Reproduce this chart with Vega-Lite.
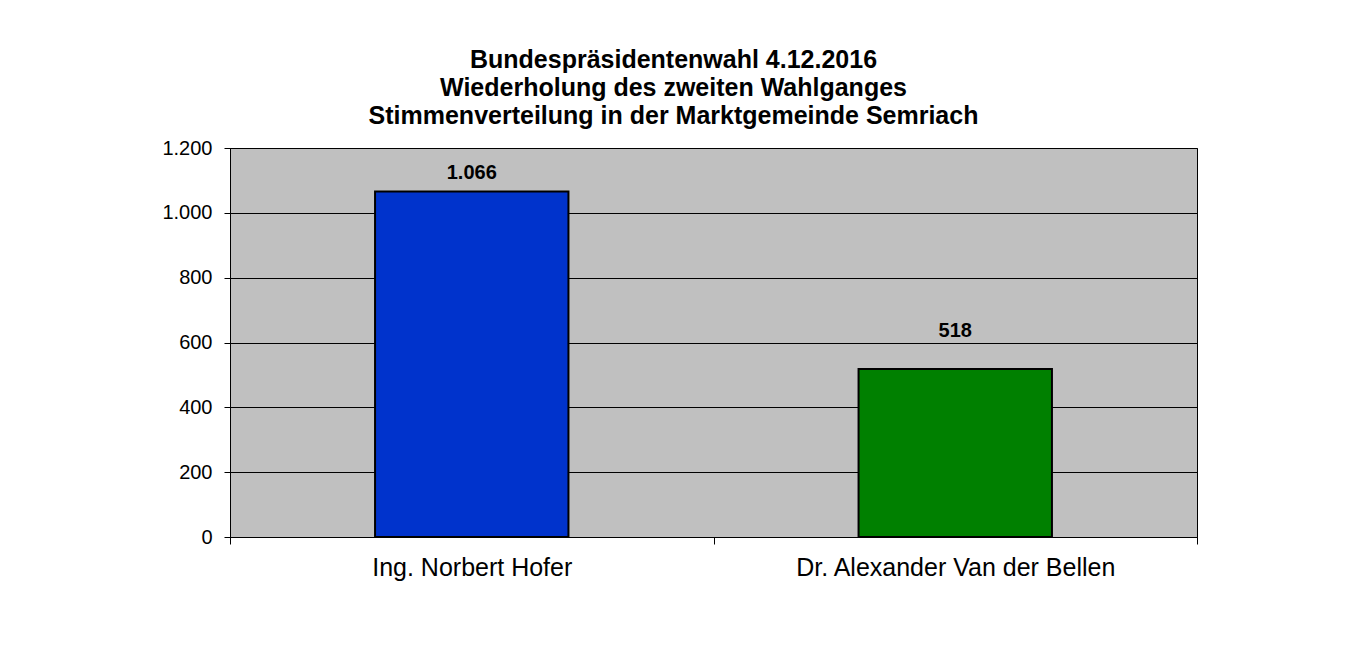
{
  "$schema": "https://vega.github.io/schema/vega-lite/v6.json",
  "width": 967,
  "height": 389,
  "autosize": {"type": "none"},
  "padding": {"left": 230, "top": 148, "right": 157, "bottom": 110},
  "background": "white",
  "config": {
    "locale": {"number": {"decimal": ",", "thousands": ".", "grouping": [3], "currency": ["", " €"]}},
    "font": "Liberation Sans",
    "view": {"fill": "#C0C0C0", "stroke": "#000000", "strokeWidth": 1}
  },
  "title": {
    "text": ["Bundespräsidentenwahl 4.12.2016", "Wiederholung des zweiten Wahlganges", "Stimmenverteilung in der Marktgemeinde Semriach"],
    "fontSize": 25,
    "fontWeight": "bold",
    "lineHeight": 28,
    "color": "#000000",
    "font": "Liberation Sans",
    "anchor": "middle",
    "dx": -40,
    "offset": 9
  },
  "data": {
    "values": [
      {"kandidat": "Ing. Norbert Hofer", "stimmen": 1066},
      {"kandidat": "Dr. Alexander Van der Bellen", "stimmen": 518}
    ]
  },
  "encoding": {
    "x": {
      "field": "kandidat",
      "type": "nominal",
      "sort": null,
      "scale": {"paddingInner": 0, "paddingOuter": 0},
      "axis": {
        "title": null,
        "labelAngle": 0,
        "labelFontSize": 25,
        "labelColor": "#000000",
        "labelFont": "Liberation Sans",
        "labelLimit": 0,
        "tickBand": "extent",
        "tickSize": 7,
        "tickColor": "#000000",
        "domainColor": "#000000",
        "labelPadding": 11,
        "grid": false
      }
    },
    "y": {
      "field": "stimmen",
      "type": "quantitative",
      "scale": {"domain": [0, 1200]},
      "axis": {
        "title": null,
        "values": [0, 200, 400, 600, 800, 1000, 1200],
        "format": ",d",
        "labelFontSize": 20,
        "labelColor": "#000000",
        "labelFont": "Liberation Sans",
        "tickSize": 6,
        "tickColor": "#000000",
        "domainColor": "#000000",
        "labelPadding": 12,
        "grid": true,
        "gridColor": "#000000",
        "gridWidth": 1,
        "gridOpacity": 1
      }
    }
  },
  "layer": [
    {
      "mark": {"type": "bar", "width": {"band": 0.4}, "stroke": "#000000", "strokeWidth": 2},
      "encoding": {
        "color": {
          "field": "kandidat",
          "type": "nominal",
          "scale": {"domain": ["Ing. Norbert Hofer", "Dr. Alexander Van der Bellen"], "range": ["#0033CC", "#008000"]},
          "legend": null
        }
      }
    },
    {
      "transform": [{"filter": "datum.kandidat === 'Ing. Norbert Hofer'"}],
      "mark": {"type": "text", "dy": -12, "baseline": "alphabetic", "fontSize": 20, "fontWeight": "bold", "color": "#000000"},
      "encoding": {"text": {"field": "stimmen", "type": "quantitative", "format": ",d"}}
    },
    {
      "transform": [{"filter": "datum.kandidat === 'Dr. Alexander Van der Bellen'"}],
      "mark": {"type": "text", "dy": -32, "baseline": "alphabetic", "fontSize": 20, "fontWeight": "bold", "color": "#000000"},
      "encoding": {"text": {"field": "stimmen", "type": "quantitative", "format": ",d"}}
    }
  ]
}
